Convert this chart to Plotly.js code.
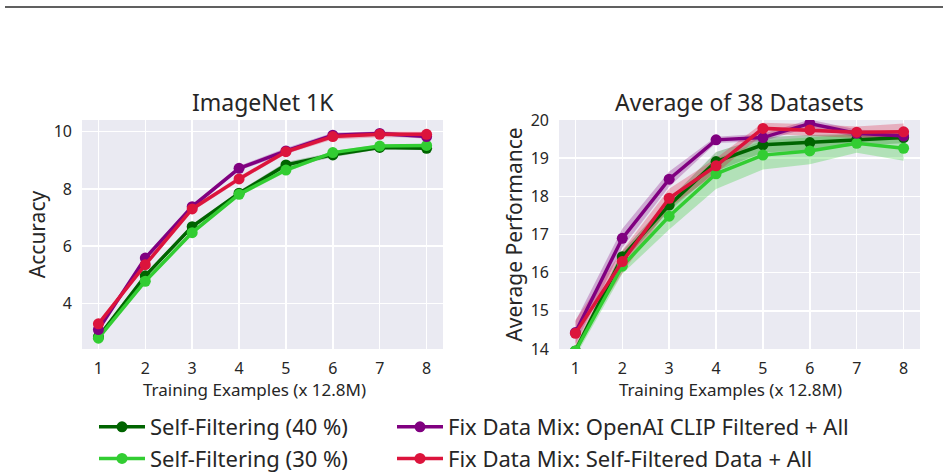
<!DOCTYPE html>
<html>
<head>
<meta charset="utf-8">
<script src="https://cdn.plot.ly/plotly-3.0.1.min.js"></script>
<style>html,body{margin:0;padding:0;background:#ffffff;}</style>
</head>
<body>
<div id="chart" style="width:948px;height:475px;"></div>
<script>
// Training budget steps (x 12.8M examples)
const steps = [1, 2, 3, 4, 5, 6, 7, 8];
const stepLabels = ['1', '2', '3', '4', '5', '6', '7', '8'];

const seriesNames = [
  'Self-Filtering (40 %)',
  'Self-Filtering (30 %)',
  'Fix Data Mix: OpenAI CLIP Filtered + All',
  'Fix Data Mix: Self-Filtered Data + All'
];
const seriesColors = ['#006400', '#32CD32', '#800080', '#DC143C'];
const bandColors = ['rgba(0,100,0,0.28)', 'rgba(50,205,50,0.3)', 'rgba(128,0,128,0.28)', 'rgba(220,20,60,0.28)'];

// ImageNet 1K accuracy: means
const inetSelf40 = [2.82, 4.96, 6.68, 7.85, 8.84, 9.19, 9.45, 9.42];
const inetSelf30 = [2.78, 4.77, 6.47, 7.81, 8.66, 9.27, 9.50, 9.52];
const inetClip   = [3.08, 5.58, 7.38, 8.72, 9.33, 9.88, 9.94, 9.83];
const inetMix    = [3.28, 5.35, 7.30, 8.35, 9.30, 9.83, 9.91, 9.91];
// ImageNet 1K accuracy: spread
const inetSelf40Sd = [0.05, 0.06, 0.08, 0.08, 0.10, 0.08, 0.06, 0.06];
const inetSelf30Sd = [0.05, 0.06, 0.07, 0.07, 0.08, 0.06, 0.05, 0.05];
const inetClipSd   = [0.05, 0.08, 0.08, 0.08, 0.10, 0.08, 0.08, 0.08];
const inetMixSd    = [0.06, 0.10, 0.08, 0.08, 0.08, 0.10, 0.10, 0.10];

// Average over 38 datasets: means
const avgSelf40 = [13.95, 16.42, 17.77, 18.91, 19.35, 19.41, 19.48, 19.54];
const avgSelf30 = [13.95, 16.17, 17.48, 18.59, 19.08, 19.19, 19.39, 19.26];
const avgClip   = [14.43, 16.90, 18.45, 19.48, 19.54, 19.91, 19.65, 19.58];
const avgMix    = [14.41, 16.29, 17.95, 18.80, 19.78, 19.74, 19.68, 19.69];
// Average over 38 datasets: spread
const avgSelf40Sd = [0.10, 0.15, 0.15, 0.25, 0.20, 0.20, 0.15, 0.15];
const avgSelf30Sd = [0.15, 0.20, 0.35, 0.40, 0.38, 0.35, 0.25, 0.33];
const avgClipSd   = [0.30, 0.25, 0.20, 0.08, 0.10, 0.10, 0.10, 0.10];
const avgMixSd    = [0.35, 0.30, 0.25, 0.20, 0.15, 0.15, 0.15, 0.22];

const panels = [
  {xa: 'x',  ya: 'y',  means: [inetSelf40, inetSelf30, inetClip, inetMix],
   sds: [inetSelf40Sd, inetSelf30Sd, inetClipSd, inetMixSd]},
  {xa: 'x2', ya: 'y2', means: [avgSelf40, avgSelf30, avgClip, avgMix],
   sds: [avgSelf40Sd, avgSelf30Sd, avgClipSd, avgMixSd]}
];

const traces = [];
panels.forEach(function (p, pi) {
  // shaded spread bands, drawn beneath the lines
  p.means.forEach(function (m, si) {
    const upper = m.map(function (v, i) { return v + p.sds[si][i]; });
    const lower = m.map(function (v, i) { return v - p.sds[si][i]; });
    traces.push({
      type: 'scatter', mode: 'lines',
      x: steps.concat(steps.slice().reverse()),
      y: upper.concat(lower.slice().reverse()),
      fill: 'toself', fillcolor: bandColors[si],
      line: {width: 0, color: bandColors[si]},
      xaxis: p.xa, yaxis: p.ya,
      showlegend: false, hoverinfo: 'skip'
    });
  });
  p.means.forEach(function (m, si) {
    traces.push({
      type: 'scatter', mode: 'lines+markers',
      x: steps, y: m,
      name: seriesNames[si],
      line: {color: seriesColors[si], width: 3.5},
      marker: {color: seriesColors[si], size: 11},
      xaxis: p.xa, yaxis: p.ya,
      showlegend: pi === 0,
      legend: si < 2 ? 'legend' : 'legend2'
    });
  });
});

const textColor = '#262626';
const fontFamily = 'Noto Sans, DejaVu Sans, sans-serif';
const W = 948, H = 475;
const px = function (v) { return v / W; };
const py = function (v) { return 1 - v / H; };

function xAxis(domain, anchor) {
  return {
    domain: domain, range: [0.65, 8.35], anchor: anchor,
    tickmode: 'array', tickvals: steps, ticktext: stepLabels,
    showgrid: true, gridcolor: '#ffffff', gridwidth: 1.5,
    zeroline: false, showline: false, ticks: '',
    ticklabelstandoff: 8,
    tickfont: {family: fontFamily, size: 16, color: textColor}
  };
}
function yAxis(range, dtick, title, anchor) {
  return {
    domain: [py(349), py(120)], range: range, dtick: dtick, anchor: anchor,
    showgrid: true, gridcolor: '#ffffff', gridwidth: 1.5,
    zeroline: false, showline: false, ticks: '',
    ticklabelstandoff: 9,
    tickfont: {family: fontFamily, size: 16, color: textColor},
    title: {text: title, standoff: 2,
            font: {family: fontFamily, size: 21, color: textColor}}
  };
}

function label(text, x, y, size, anchor) {
  return {text: text, xref: 'paper', yref: 'paper', x: x, y: y,
          xanchor: 'center', yanchor: anchor, showarrow: false,
          font: {family: fontFamily, size: size, color: textColor}};
}

const legendBase = {
  y: py(406), xanchor: 'left', yanchor: 'top', itemwidth: 46,
  bgcolor: 'rgba(0,0,0,0)', orientation: 'v',
  font: {family: fontFamily, size: 22, color: textColor}
};

const layout = {
  width: W, height: H,
  margin: {l: 0, r: 0, t: 0, b: 0, autoexpand: false},
  paper_bgcolor: '#ffffff',
  plot_bgcolor: '#EAEAF2',
  font: {family: fontFamily, color: textColor},
  xaxis: xAxis([px(82), px(443)], 'y'),
  yaxis: yAxis([2.40, 10.41], 2, 'Accuracy', 'x'),
  xaxis2: xAxis([px(559), px(920)], 'y2'),
  yaxis2: yAxis([14, 20], 1, 'Average Performance', 'x2'),
  legend: Object.assign({x: px(94)}, legendBase),
  legend2: Object.assign({x: px(392)}, legendBase),
  annotations: [
    label('ImageNet 1K', px(262.5), py(120), 23, 'bottom'),
    label('Average of 38 Datasets', px(739.5), py(120), 23, 'bottom'),
    label('Training Examples (x 12.8M)', px(254), py(389), 17, 'middle'),
    label('Training Examples (x 12.8M)', px(730.5), py(389), 17, 'middle')
  ],
  shapes: [
    {type: 'line', xref: 'paper', yref: 'paper',
     x0: px(5), x1: px(943), y0: py(7), y1: py(7),
     line: {color: '#2b2b2b', width: 1.6}}
  ]
};

Plotly.newPlot('chart', traces, layout, {staticPlot: true, displayModeBar: false});
</script>
</body>
</html>
